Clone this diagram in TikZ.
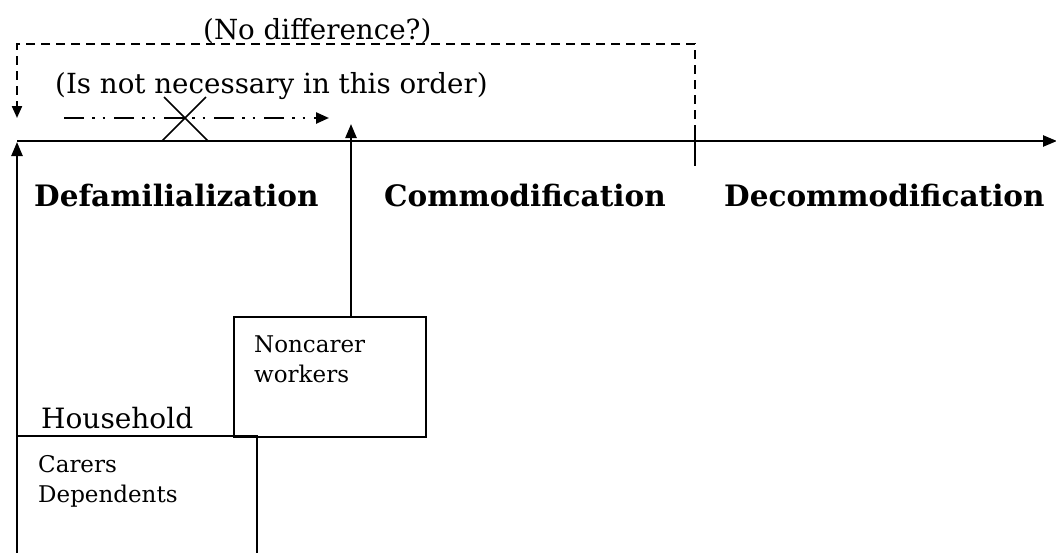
\documentclass[tikz,border=0pt]{standalone}
\usepackage{fontspec}
\setmainfont{DejaVu Serif}
\usetikzlibrary{arrows.meta}
\begin{document}
\begin{tikzpicture}[x=1pt,y=-1pt,
  axisline/.style={line width=2.4pt,-{Triangle[length=14pt,width=11pt]}},
  upline/.style={line width=2.4pt,-{Triangle[length=14pt,width=11pt]}},
  boxline/.style={line width=1.7pt},
  dashline/.style={line width=2.2pt,dash pattern=on 9pt off 6pt,-{Triangle[length=12pt,width=10pt]}},
  dotdash/.style={line width=2.4pt,dash pattern=on 20pt off 8pt on 2.5pt off 8pt on 2.5pt off 9pt,-{Triangle[length=13pt,width=11pt]}},
  txt/.style={inner sep=0pt,anchor=base west,font=\fontsize{27.7pt}{32pt}\selectfont},
  bigtxt/.style={inner sep=0pt,anchor=base west,font=\bfseries\fontsize{29.5pt}{34pt}\selectfont},
  smalltxt/.style={inner sep=0pt,anchor=base west,align=left,font=\fontsize{23pt}{30pt}\selectfont},
  housetxt/.style={inner sep=0pt,anchor=base west,font=\fontsize{28pt}{32pt}\selectfont}]
\useasboundingbox (0,0) rectangle (1056,552);
\fill[white] (0,0) rectangle (1056,552);
% coordinates
\coordinate (axL) at (17,141);
\coordinate (axR) at (1057,141);
\coordinate (lb) at (17,553);
\coordinate (lt) at (17,142);
\coordinate (mt) at (351,124);
\coordinate (tk1) at (695,133);
\coordinate (tk2) at (695,166);
\coordinate (d1) at (695,134);
\coordinate (d2) at (695,44);
\coordinate (d3) at (17,44);
\coordinate (d4) at (17,118);
\coordinate (dd1) at (64,118);
\coordinate (dd2) at (329,118);
\coordinate (x1) at (162,141);
\coordinate (x2) at (206,97);
\coordinate (x3) at (208,141);
\coordinate (x4) at (164,97);
% boxes
\node[draw,boxline,minimum width=192pt,minimum height=120pt,inner sep=0pt,anchor=north west] (ncbox) at (233,316) {};
\coordinate (cb1) at (17,436);
\coordinate (cb2) at (257,436);
\coordinate (cb3) at (257,553);
\draw[boxline] (cb1) -- (cb2) -- (cb3);
% axis and arrows
\draw[axisline] (axL) -- (axR);
\draw[upline] (lb) -- (lt);
\draw[upline] (ncbox.north -| mt) -- (mt);
\draw[boxline] (tk1) -- (tk2);
\draw[dashline] (d1) -- (d2) -- (d3) -- (d4);
\draw[dotdash] (dd1) -- (dd2);
\draw[line width=1.6pt] (x1) -- (x2);
\draw[line width=1.6pt] (x3) -- (x4);
% texts
\node[txt] (nodiff) at (203,39) {(No difference?)};
\node[txt] (order) at (55,93) {(Is not necessary in this order)};
\node[bigtxt] (defam) at (34,206) {Defamilialization};
\node[bigtxt] (comm) at (384,206) {Commodification};
\node[bigtxt] (decomm) at (724,206) {Decommodification};
\node[smalltxt] (noncarer) at (254,382) {Noncarer\\workers};
\node[housetxt] (household) at (41,428) {Household};
\node[smalltxt] (carers) at (38,502) {Carers\\Dependents};
\end{tikzpicture}
\end{document}
